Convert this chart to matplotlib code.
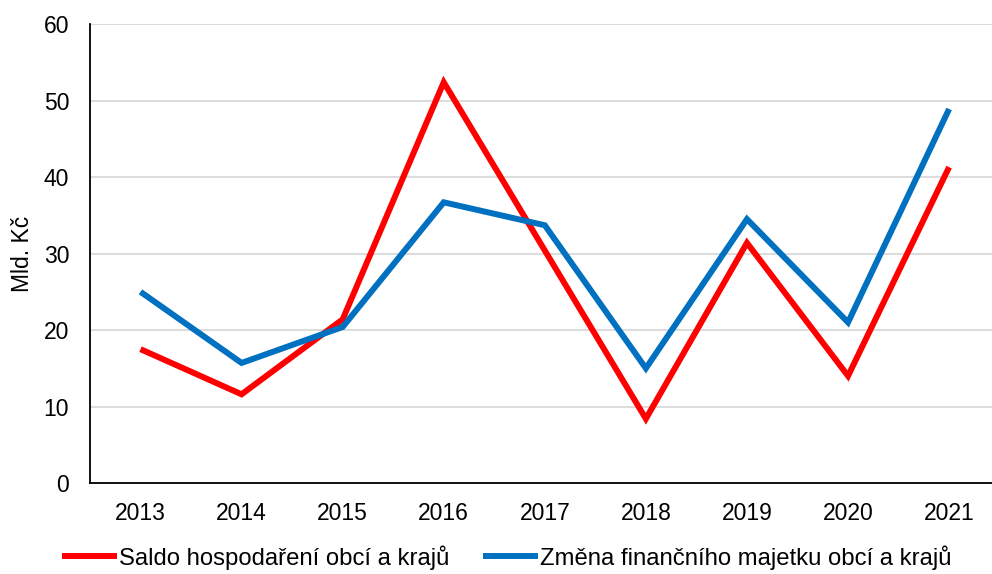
import matplotlib
matplotlib.use("Agg")
import matplotlib.pyplot as plt

plt.rcParams['font.family'] = ['Liberation Sans', 'DejaVu Sans']

years = ["2013", "2014", "2015", "2016", "2017", "2018", "2019", "2020", "2021"]
saldo = [17.5, 11.6, 21.4, 52.4, 30.4, 8.4, 31.4, 14.0, 41.3]
zmena = [25.0, 15.7, 20.4, 36.7, 33.7, 15.0, 34.5, 21.0, 48.9]
labels = ["Saldo hospodaření obcí a krajů", "Změna finančního majetku obcí a krajů"]

fig = plt.figure(figsize=(9.92, 5.74), dpi=100)
ax = fig.add_axes([0.0907, 0.1585, 0.917, 0.7995])

x = list(range(len(years)))
ax.plot(x, saldo, color="#FF0000", lw=4.3, label=labels[0],
        solid_joinstyle="miter", solid_capstyle="butt")
ax.plot(x, zmena, color="#0070C0", lw=4.3, label=labels[1],
        solid_joinstyle="miter", solid_capstyle="butt")

ax.set_xlim(-0.5, len(years) - 0.5)
ax.set_ylim(0, 60)
ax.set_yticks(range(0, 61, 10))
ax.set_xticks(x)
ax.set_xticklabels(years)
ax.grid(axis="y", color="#D9D9D9", lw=1.3)
ax.set_axisbelow(True)
for s in ["top", "right"]:
    ax.spines[s].set_visible(False)
for s in ["left", "bottom"]:
    ax.spines[s].set_color("black")
    ax.spines[s].set_linewidth(1.3)
ax.tick_params(axis="both", length=0, labelsize=16.5)
ax.tick_params(axis="x", pad=14)
ax.tick_params(axis="y", pad=15)
ax.set_ylabel("Mld. Kč", fontsize=16.5, labelpad=7)

fig.legend(loc="lower center", bbox_to_anchor=(0.511, -0.03), ncol=2, frameon=False,
           fontsize=17.2, handlelength=2.3, handletextpad=0.1, columnspacing=1.4)

fig.savefig("out.png", dpi=100)
